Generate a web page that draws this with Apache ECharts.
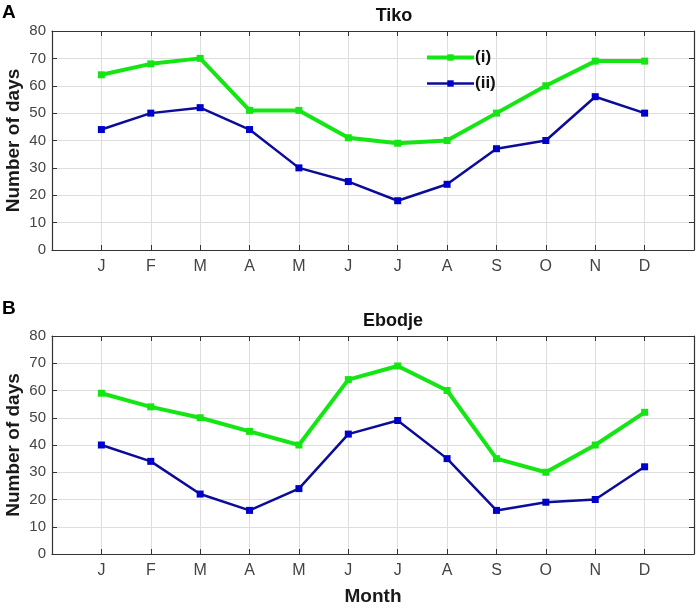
<!DOCTYPE html>
<html style="height: 100%">
<head>
  <meta charset="utf-8">
</head>
<body style="height: 100%; margin: 0; background: #fff">
  <div id="container" style="height: 100%"></div>

  <script type="text/javascript" src="https://fastly.jsdelivr.net/npm/echarts@6/dist/echarts.min.js"></script>

  <script type="text/javascript">
    var months = ['J', 'F', 'M', 'A', 'M', 'J', 'J', 'A', 'S', 'O', 'N', 'D'];
    var tikoI = [64, 68, 70, 51, 51, 41, 39, 40, 50, 60, 69, 69];
    var tikoII = [44, 50, 52, 44, 30, 25, 18, 24, 37, 40, 56, 50];
    var ebodjeI = [59, 54, 50, 45, 40, 64, 69, 60, 35, 30, 40, 52];
    var ebodjeII = [40, 34, 22, 16, 24, 44, 49, 35, 16, 19, 20, 32];

    var green = '#14e614';
    var blue = '#0c0c99';
    var font = 'Liberation Sans, Arial, sans-serif';

    function pts(arr) {
      return arr.map(function (v, i) { return [i + 1, v]; });
    }

    var dom = document.getElementById('container');
    var myChart = echarts.init(dom, null, { renderer: 'canvas' });

    function xAxis(grid, pos, withLabels, name) {
      return {
        type: 'value', gridIndex: grid, position: pos,
        min: 0, max: 13, interval: 1,
        name: name || '', nameLocation: 'middle', nameGap: 33, nameMoveOverlap: false,
        nameTextStyle: { fontFamily: font, fontSize: 19, fontWeight: 'bold', color: '#1a1a1a' },
        axisLine: { show: true, onZero: false, lineStyle: { color: '#333', width: 1.2 } },
        axisTick: {
          show: true, inside: true, length: 5, lineStyle: { color: '#333' },
          interval: function (idx, v) { return v >= 1 && v <= 12; }
        },
        axisLabel: {
          show: withLabels, margin: 9, fontFamily: font, fontSize: 16, color: '#444',
          formatter: function (v) { return (v >= 1 && v <= 12) ? months[v - 1] : ''; }
        },
        splitLine: { show: withLabels, lineStyle: { color: '#dedede' } }
      };
    }

    function yAxis(grid, pos, withLabels) {
      return {
        type: 'value', gridIndex: grid, position: pos,
        min: 0, max: 80, interval: 10,
        name: withLabels ? 'Number of days' : '', nameLocation: 'middle', nameGap: 29, nameMoveOverlap: false,
        nameTextStyle: { fontFamily: font, fontSize: 19, fontWeight: 'bold', color: '#1a1a1a' },
        axisLine: { show: true, onZero: false, lineStyle: { color: '#333', width: 1.2 } },
        axisTick: { show: true, inside: true, length: 5, lineStyle: { color: '#333' } },
        axisLabel: { show: withLabels, margin: 6, fontFamily: font, fontSize: 15, color: '#444' },
        splitLine: { show: withLabels, lineStyle: { color: '#dedede' } }
      };
    }

    function line(name, data, color, width, xi, yi, mcolor) {
      return {
        name: name, type: 'line', data: pts(data),
        xAxisIndex: xi, yAxisIndex: yi,
        symbol: 'rect', symbolSize: 7, showSymbol: true,
        lineStyle: { color: color, width: width },
        itemStyle: { color: mcolor || color },
        z: name === '(i)' ? 3 : 2
      };
    }

    var option = {
      animation: false,
      backgroundColor: '#fff',
      title: [
        { text: 'Tiko', left: 389, top: 2, textAlign: 'center',
          textStyle: { fontFamily: font, fontSize: 18, fontWeight: 'bold', color: '#111' } },
        { text: 'Ebodje', left: 388, top: 307, textAlign: 'center',
          textStyle: { fontFamily: font, fontSize: 18, fontWeight: 'bold', color: '#111' } }
      ],
      graphic: [
        { type: 'text', left: 2, top: 3, style: { text: 'A', font: 'bold 19px ' + font, fill: '#000' } },
        { type: 'text', left: 2, top: 299, style: { text: 'B', font: 'bold 19px ' + font, fill: '#000' } }
      ],
      legend: {
        left: 420, top: 44, orient: 'vertical', itemGap: 9,
        itemWidth: 47, itemHeight: 8,
        data: ['(i)', '(ii)'],
        lineStyle: { width: 'inherit' },
        textStyle: { fontFamily: font, fontSize: 17, fontWeight: 'bold', color: '#111', padding: [0, 0, 0, -4] }
      },
      grid: [
        { left: 52, top: 31, width: 642, height: 219, outerBoundsMode: 'none', containLabel: false },
        { left: 52, top: 336, width: 642, height: 218, outerBoundsMode: 'none', containLabel: false }
      ],
      xAxis: [
        xAxis(0, 'bottom', true),
        xAxis(0, 'top', false),
        xAxis(1, 'bottom', true, 'Month'),
        xAxis(1, 'top', false)
      ],
      yAxis: [
        yAxis(0, 'left', true),
        yAxis(0, 'right', false),
        yAxis(1, 'left', true),
        yAxis(1, 'right', false)
      ],
      series: [
        line('(i)', tikoI, green, 4, 0, 0),
        line('(ii)', tikoII, blue, 2.5, 0, 0, '#0000cc'),
        line('(i)', ebodjeI, green, 4, 2, 2),
        line('(ii)', ebodjeII, blue, 2.5, 2, 2, '#0000cc')
      ]
    };

    myChart.setOption(option);
    window.addEventListener('resize', myChart.resize);
  </script>
</body>
</html>
